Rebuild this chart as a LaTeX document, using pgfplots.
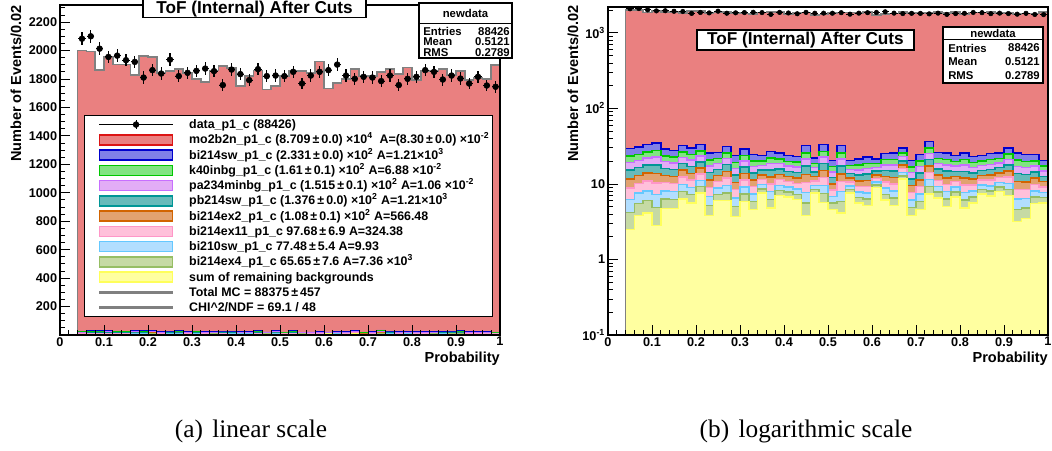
\documentclass[border=0pt]{standalone}
\usepackage{pgfplots}
\pgfplotsset{compat=1.18}
\usepackage{pgfplotstable}
\usepackage{fontspec}
\setmainfont{Liberation Sans}
\newfontfamily\capfont{Liberation Serif}

\definecolor{cRedF}{RGB}{234,128,128}
\definecolor{cRedL}{RGB}{220,20,20}
\definecolor{cBlueF}{RGB}{128,128,232}
\definecolor{cBlueL}{RGB}{0,0,205}
\definecolor{cGreenF}{RGB}{130,228,130}
\definecolor{cGreenL}{RGB}{0,200,0}
\definecolor{cVioF}{RGB}{226,172,246}
\definecolor{cVioL}{RGB}{200,110,255}
\definecolor{cTealF}{RGB}{104,186,186}
\definecolor{cTealL}{RGB}{0,150,150}
\definecolor{cOraF}{RGB}{226,162,112}
\definecolor{cOraL}{RGB}{210,100,0}
\definecolor{cPinkF}{RGB}{255,192,218}
\definecolor{cPinkL}{RGB}{255,150,200}
\definecolor{cLbF}{RGB}{178,222,255}
\definecolor{cLbL}{RGB}{100,200,255}
\definecolor{cOlF}{RGB}{198,218,164}
\definecolor{cOlL}{RGB}{150,190,100}
\definecolor{cYelF}{RGB}{255,255,160}
\definecolor{cYelL}{RGB}{255,255,90}
\definecolor{cGray}{RGB}{128,128,128}

\newcommand\tickfont{\bfseries\fontsize{9.5}{10}\selectfont}
\newcommand\labfont{\bfseries\fontsize{10.9}{12}\selectfont}
\newcommand\titfont{\bfseries\fontsize{12.9}{14}\selectfont}
\newcommand\statfont{\bfseries\fontsize{8.5}{10}\selectfont}
\newcommand\legfont{\bfseries\fontsize{9.3}{10}\selectfont}

% cumulative stack tops per bin (left bin edge), c1 = remaining bkg ... c10 = total MC
\pgfplotstableread{
x c1 c2 c3 c4 c5 c6 c7 c8 c9 c10
0.04 2.5 4.2 6.2 8.8 11.6 15.2 19.1 23.3 29.3 2000
0.06 3.8 5.5 7.6 10.1 13.0 16.5 20.5 24.7 30.8 1993
0.08 4.1 6.0 8.1 10.9 13.9 17.8 22.1 26.6 33.1 1865
0.10 2.8 4.9 7.3 10.3 13.7 17.9 22.6 27.6 34.8 1958
0.12 4.7 6.3 8.1 10.4 12.9 16.1 19.7 23.5 28.9 1902
0.14 4.7 6.2 7.9 10.1 12.5 15.6 19.0 22.6 27.8 1902
0.16 6.3 8.0 9.9 12.4 15.2 18.6 22.5 26.5 32.4 1830
0.18 5.6 7.2 9.0 11.3 13.8 17.1 20.6 24.4 29.9 1963
0.20 7.6 9.2 11.1 13.6 16.2 19.6 23.4 27.4 33.1 1953
0.22 3.8 5.2 6.8 8.9 11.2 14.1 17.4 20.8 25.7 1842
0.24 6.0 7.3 8.8 10.7 12.9 15.5 18.5 21.7 26.2 1858
0.26 6.0 7.6 9.5 12.0 14.6 18.0 21.8 25.8 31.5 1870
0.28 3.7 5.0 6.5 8.4 10.5 13.1 16.1 19.2 23.7 1842
0.30 5.9 7.4 9.1 11.3 13.7 16.8 20.1 23.7 28.9 1800
0.32 4.6 5.9 7.4 9.2 11.3 14.0 16.9 20.0 24.4 1777
0.34 7.6 8.6 9.8 11.4 13.1 15.2 17.6 20.1 23.7 1860
0.36 4.8 6.2 7.9 10.0 12.3 15.3 18.5 22.0 27.0 1893
0.38 7.0 8.2 9.6 11.4 13.3 15.8 18.6 21.5 25.7 1877
0.40 6.7 7.8 9.1 10.7 12.5 14.7 17.2 19.9 23.7 1749
0.42 6.2 7.3 8.6 10.2 12.0 14.2 16.7 19.4 23.2 1819
0.44 3.8 5.6 7.7 10.4 13.4 17.2 21.3 25.7 32.1 1860
0.46 7.6 8.5 9.6 11.0 12.5 14.4 16.5 18.8 22.0 1726
0.48 5.7 7.5 9.5 12.1 15.0 18.6 22.7 26.9 33.1 1753
0.50 4.6 5.6 6.8 8.3 10.0 12.1 14.4 16.9 20.5 1819
0.52 4.1 5.9 8.0 10.7 13.6 17.3 21.4 25.8 32.1 1858
0.54 7.6 8.4 9.4 10.6 12.0 13.7 15.6 17.6 20.5 1858
0.56 5.6 6.6 7.8 9.3 11.0 13.1 15.4 17.9 21.4 1842
0.58 5.2 6.3 7.6 9.3 11.1 13.5 16.0 18.8 22.7 1923
0.60 8.9 9.7 10.6 11.8 13.1 14.8 16.6 18.6 21.4 1733
0.62 6.1 7.3 8.8 10.6 12.6 15.1 17.9 20.9 25.2 1772
0.64 5.2 6.5 8.1 10.0 12.2 14.9 17.9 21.1 25.7 1800
0.66 11.6 12.8 14.1 15.9 17.8 20.2 22.9 25.8 29.9 1870
0.68 3.8 4.9 6.1 7.7 9.5 11.7 14.1 16.7 20.5 1819
0.70 4.6 5.9 7.4 9.2 11.3 14.0 16.9 20.0 24.4 1823
0.72 7.4 9.3 11.4 14.2 17.2 21.0 25.3 29.8 36.3 1847
0.74 6.5 7.8 9.2 11.1 13.2 15.8 18.7 21.8 26.2 1870
0.76 5.0 6.3 7.9 9.8 12.0 14.8 17.8 21.0 25.7 1835
0.78 6.7 7.8 9.1 10.7 12.5 14.7 17.2 19.9 23.7 1881
0.80 4.8 6.1 7.7 9.7 11.9 14.7 17.7 21.0 25.7 1795
0.82 5.6 6.7 8.1 9.7 11.6 13.9 16.5 19.2 23.2 1858
0.84 7.4 8.4 9.7 11.2 12.9 15.1 17.5 20.0 23.7 1858
0.86 6.9 8.1 9.4 11.2 13.1 15.5 18.2 21.1 25.2 1870
0.88 8.0 9.1 10.5 12.1 14.0 16.4 19.0 21.7 25.7 1830
0.90 7.0 8.5 10.2 12.4 14.8 17.8 21.2 24.8 29.9 1858
0.92 3.2 4.6 6.3 8.5 10.8 13.8 17.1 20.6 25.7 1795
0.94 3.5 4.8 6.4 8.4 10.6 13.4 16.4 19.7 24.4 1805
0.96 5.5 6.7 8.1 9.9 11.9 14.4 17.2 20.2 24.4 1800
0.98 5.6 6.6 7.7 9.1 10.7 12.6 14.8 17.2 20.5 1900
1.00 5.6 6.6 7.7 9.1 10.7 12.6 14.8 17.2 20.5 1900
}\hist

% data points at bin centres
\pgfplotstableread{
x d e ex
0.05 2083 45.6 0.008
0.07 2100 45.8 0.008
0.09 2013 44.9 0.008
0.11 1955 44.2 0.008
0.13 1964 44.3 0.008
0.15 1932 44.0 0.008
0.17 1920 43.8 0.008
0.19 1810 42.5 0.008
0.21 1862 43.2 0.008
0.23 1838 42.9 0.008
0.25 1936 44.0 0.008
0.27 1820 42.7 0.008
0.29 1843 42.9 0.008
0.31 1857 43.1 0.008
0.33 1873 43.3 0.008
0.35 1855 43.1 0.008
0.37 1757 41.9 0.008
0.39 1866 43.2 0.008
0.41 1834 42.8 0.008
0.43 1792 42.3 0.008
0.45 1869 43.2 0.008
0.47 1820 42.7 0.008
0.49 1824 42.7 0.008
0.51 1820 42.7 0.008
0.53 1850 43.0 0.008
0.55 1768 42.0 0.008
0.57 1824 42.7 0.008
0.59 1850 43.0 0.008
0.61 1862 43.2 0.008
0.63 1901 43.6 0.008
0.65 1824 42.7 0.008
0.67 1801 42.4 0.008
0.69 1815 42.6 0.008
0.71 1810 42.5 0.008
0.73 1785 42.2 0.008
0.75 1824 42.7 0.008
0.77 1757 41.9 0.008
0.79 1801 42.4 0.008
0.81 1815 42.6 0.008
0.83 1862 43.2 0.008
0.85 1850 43.0 0.008
0.87 1796 42.4 0.008
0.89 1824 42.7 0.008
0.91 1803 42.5 0.008
0.93 1768 42.0 0.008
0.95 1815 42.6 0.008
0.97 1754 41.9 0.008
0.99 1745 41.8 0.008
}\data

\pgfplotsset{
  rootaxis/.style={
    scale only axis, width=330pt, xmin=0, xmax=1, axis on top,
    xtick={0,0.1,0.2,0.3,0.4,0.5,0.6,0.7,0.8,0.9,1},
    xticklabels={0,0.1,0.2,0.3,0.4,0.5,0.6,0.7,0.8,0.9,1},
    minor x tick num=4,
    xtick pos=left, ytick pos=left, tick align=inside,
    major tick length=7.5pt, minor tick length=3.75pt,
    every tick/.style={black, line width=0.6pt},
    axis line style={black, line width=0.9pt},
    ticklabel style={font=\tickfont},
    xticklabel style={inner sep=1.5pt},
    yticklabel style={inner sep=2pt},
    log origin y=infty,
  },
  rootbox/.style={legend image code/.code={\path (0pt,0pt); \draw[##1] (8pt,-3.75pt) rectangle (63pt,3.75pt);}},
  rootline/.style={legend image code/.code={\path (0pt,0pt); \fill[cGray] (8pt,-0.85pt) rectangle (63pt,0.85pt);}},
  rootdata/.style={legend image code/.code={\path (0pt,0pt);
      \draw[black,line width=0.6pt] (8pt,0pt) -- (63pt,0pt);
      \draw[black,line width=0.6pt] (35.5pt,-3.25pt) -- (35.5pt,3.25pt);
      \fill[black] (35.5pt,0pt) circle (2pt);}},
}

\newcommand{\stack}[1]{%
  \addplot[const plot, fill=cRedF, draw=none, forget plot] table[x=x,y=c10]{\hist} \closedcycle;
  \addplot[const plot, fill=cBlueF, draw=cBlueL, line width=#1, forget plot] table[x=x,y=c9]{\hist} \closedcycle;
  \addplot[const plot, fill=cGreenF, draw=cGreenL, line width=#1, forget plot] table[x=x,y=c8]{\hist} \closedcycle;
  \addplot[const plot, fill=cVioF, draw=cVioL, line width=#1, forget plot] table[x=x,y=c7]{\hist} \closedcycle;
  \addplot[const plot, fill=cTealF, draw=cTealL, line width=#1, forget plot] table[x=x,y=c6]{\hist} \closedcycle;
  \addplot[const plot, fill=cOraF, draw=cOraL, line width=#1, forget plot] table[x=x,y=c5]{\hist} \closedcycle;
  \addplot[const plot, fill=cPinkF, draw=cPinkL, line width=#1, forget plot] table[x=x,y=c4]{\hist} \closedcycle;
  \addplot[const plot, fill=cLbF, draw=cLbL, line width=#1, forget plot] table[x=x,y=c3]{\hist} \closedcycle;
  \addplot[const plot, fill=cOlF, draw=cOlL, line width=#1, forget plot] table[x=x,y=c2]{\hist} \closedcycle;
  \addplot[const plot, fill=cYelF, draw=cYelL, line width=#1, forget plot] table[x=x,y=c1]{\hist} \closedcycle;
  \addplot[const plot, draw=cGray, line width=1.3pt, forget plot] table[x=x,y=c10]{\hist} \closedcycle;
}

\begin{document}
\begin{tikzpicture}
\path[use as bounding box] (0pt,0pt) rectangle (789pt,-337.5pt);

% ---------------- (a) linear ----------------
\begin{axis}[rootaxis,
  at={(45pt,-251.25pt)}, anchor=south west, height=247.5pt,
  ymin=0, ymax=2320,
  ytick={0,200,400,600,800,1000,1200,1400,1600,1800,2000,2200},
  yticklabels={,200,400,600,800,1000,1200,1400,1600,1800,2000,2200},
  minor ytick={0,50,...,2300},
  legend cell align=left,
  legend style={at={(0.0545,0.6667)}, anchor=north west, draw=black, line width=0.8pt,
    fill=white, inner xsep=2.6pt, inner ysep=2.3pt, row sep=2.44pt, font=\legfont,
    nodes={inner sep=0pt, text height=7.5pt, text depth=1.5pt, anchor=west},
    /tikz/every odd column/.append style={column sep=11.8pt}},
]
\stack{0.5pt}
\addplot[only marks, mark=*, mark size=2.2pt, black, forget plot,
  error bars/.cd, x dir=both, x explicit, y dir=both, y explicit, error mark=none,
  error bar style={line width=0.8pt, black}]
  table[x=x, y=d, x error=ex, y error=e]{\data};

\addlegendimage{rootdata}
\addlegendentry{data\_p1\_c (88426)}
\addlegendimage{rootbox, fill=cRedF, draw=cRedL, line width=1.1pt}
\addlegendentry{mo2b2n\_p1\_c (8.709\,±\,0.0) ×10\textsuperscript{4}\ \ A=(8.30\,±\,0.0) ×10\textsuperscript{-2}}
\addlegendimage{rootbox, fill=cBlueF, draw=cBlueL, line width=1.1pt}
\addlegendentry{bi214sw\_p1\_c (2.331\,±\,0.0) ×10\textsuperscript{2} A=1.21×10\textsuperscript{3}}
\addlegendimage{rootbox, fill=cGreenF, draw=cGreenL, line width=1.1pt}
\addlegendentry{k40inbg\_p1\_c (1.61\,±\,0.1) ×10\textsuperscript{2} A=6.88 ×10\textsuperscript{-2}}
\addlegendimage{rootbox, fill=cVioF, draw=cVioL, line width=1.1pt}
\addlegendentry{pa234minbg\_p1\_c (1.515\,±\,0.1) ×10\textsuperscript{2} A=1.06 ×10\textsuperscript{-2}}
\addlegendimage{rootbox, fill=cTealF, draw=cTealL, line width=1.1pt}
\addlegendentry{pb214sw\_p1\_c (1.376\,±\,0.0) ×10\textsuperscript{2} A=1.21×10\textsuperscript{3}}
\addlegendimage{rootbox, fill=cOraF, draw=cOraL, line width=1.1pt}
\addlegendentry{bi214ex2\_p1\_c (1.08\,±\,0.1) ×10\textsuperscript{2} A=566.48}
\addlegendimage{rootbox, fill=cPinkF, draw=cPinkL, line width=1.1pt}
\addlegendentry{bi214ex11\_p1\_c 97.68\,±\,6.9 A=324.38}
\addlegendimage{rootbox, fill=cLbF, draw=cLbL, line width=1.1pt}
\addlegendentry{bi210sw\_p1\_c 77.48\,±\,5.4 A=9.93}
\addlegendimage{rootbox, fill=cOlF, draw=cOlL, line width=1.1pt}
\addlegendentry{bi214ex4\_p1\_c 65.65\,±\,7.6 A=7.36 ×10\textsuperscript{3}}
\addlegendimage{rootbox, fill=cYelF, draw=cYelL, line width=1.1pt}
\addlegendentry{sum of remaining backgrounds}
\addlegendimage{rootline}
\addlegendentry{Total MC = 88375\,±\,457}
\addlegendimage{rootline}
\addlegendentry{CHI\textasciicircum 2/NDF = 69.1 / 48}
\end{axis}

% ---------------- (b) log ----------------
\begin{axis}[rootaxis,
  at={(456pt,-251.25pt)}, anchor=south west, height=246pt,
  ymode=log, ymin=0.1, ymax=2200,
  ytick={0.1,1,10,100,1000},
  yticklabels={10\textsuperscript{-1},1,10,10\textsuperscript{2},10\textsuperscript{3}},
  minor ytick={0.2,0.3,0.4,0.5,0.6,0.7,0.8,0.9,2,3,4,5,6,7,8,9,20,30,40,50,60,70,80,90,200,300,400,500,600,700,800,900,2000},
]
\stack{1.1pt}
\addplot[only marks, mark=*, mark size=1.7pt, black, forget plot,
  error bars/.cd, x dir=both, x explicit, y dir=both, y explicit, error mark=none,
  error bar style={line width=0.7pt, black}]
  table[x=x, y=d, x error=ex, y error=e]{\data};
\end{axis}

% axis titles
\node[rotate=90, anchor=east, inner sep=0pt, font=\labfont] at (12pt,-3.75pt) {Number of Events/0.02};
\node[rotate=90, anchor=east, inner sep=0pt, font=\labfont] at (429.75pt,-3.75pt) {Number of Events/0.02};
\node[anchor=east, inner sep=0pt, font=\labfont] at (375pt,-269.25pt) {Probability};
\node[anchor=east, inner sep=0pt, font=\labfont] at (786pt,-269.25pt) {Probability};

% title boxes
\draw[fill=white, line width=0.8pt] (107.25pt,1pt) rectangle (274.5pt,-13.1pt);
\node[inner sep=0pt, font=\titfont] at (190.9pt,-7.0pt) {ToF (Internal) After Cuts};
\draw[fill=white, line width=0.8pt] (522.75pt,-22.5pt) rectangle (685.5pt,-37.5pt);
\node[inner sep=0pt, font=\titfont] at (604.1pt,-30pt) {ToF (Internal) After Cuts};

% stat boxes
\draw[fill=white, line width=0.8pt] (314.25pt,-2.25pt) rectangle (384pt,-43.5pt);
\draw[line width=0.6pt] (314.25pt,-17.6pt) -- (384pt,-17.6pt);
\node[inner sep=0pt, font=\statfont] at (349.1pt,-10.2pt) {newdata};
\node[inner sep=0pt, anchor=west, font=\statfont] at (317.25pt,-23.4pt) {Entries};
\node[inner sep=0pt, anchor=east, font=\statfont] at (382.5pt,-23.4pt) {88426};
\node[inner sep=0pt, anchor=west, font=\statfont] at (317.25pt,-31.3pt) {Mean};
\node[inner sep=0pt, anchor=east, font=\statfont] at (382.5pt,-31.3pt) {0.5121};
\node[inner sep=0pt, anchor=west, font=\statfont] at (317.25pt,-39.2pt) {RMS};
\node[inner sep=0pt, anchor=east, font=\statfont] at (382.5pt,-39.2pt) {0.2789};

\draw[fill=white, line width=0.8pt] (707.25pt,-20.25pt) rectangle (782.25pt,-62.25pt);
\draw[line width=0.6pt] (707.25pt,-29.25pt) -- (782.25pt,-29.25pt);
\node[inner sep=0pt, font=\statfont] at (744.75pt,-24.9pt) {newdata};
\node[inner sep=0pt, anchor=west, font=\statfont] at (711pt,-36pt) {Entries};
\node[inner sep=0pt, anchor=east, font=\statfont] at (780pt,-36pt) {88426};
\node[inner sep=0pt, anchor=west, font=\statfont] at (711pt,-46.5pt) {Mean};
\node[inner sep=0pt, anchor=east, font=\statfont] at (780pt,-46.5pt) {0.5121};
\node[inner sep=0pt, anchor=west, font=\statfont] at (711pt,-57pt) {RMS};
\node[inner sep=0pt, anchor=east, font=\statfont] at (780pt,-57pt) {0.2789};

% captions
\node[anchor=base, inner sep=0pt, font=\capfont\fontsize{19}{22}\selectfont] at (188.25pt,-327.75pt) {(a)\hspace{7pt}linear scale};
\node[anchor=base, inner sep=0pt, font=\capfont\fontsize{19}{22}\selectfont] at (604.5pt,-327.75pt) {(b)\hspace{7pt}logarithmic scale};
\end{tikzpicture}
\end{document}
